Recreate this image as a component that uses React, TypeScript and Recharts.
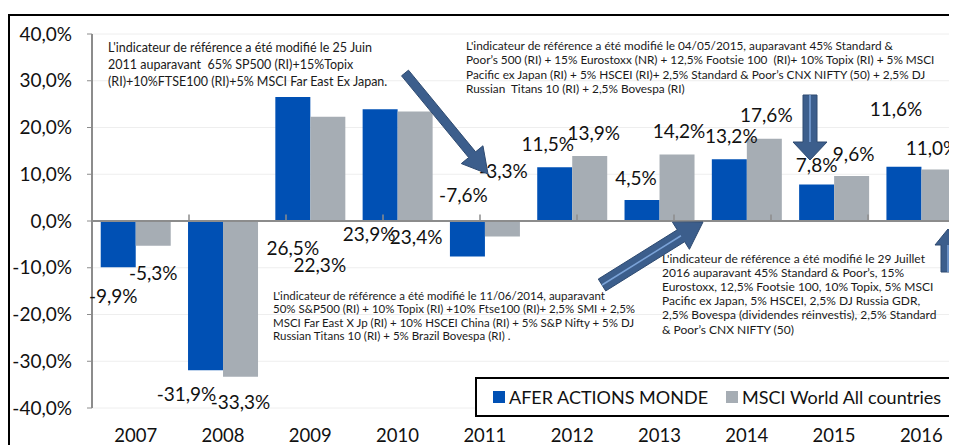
import { BarChart, Bar, XAxis, YAxis, CartesianGrid, ReferenceLine, LabelList } from "recharts";

const years = ["2007", "2008", "2009", "2010", "2011", "2012", "2013", "2014", "2015", "2016"];
const aferValues = [-9.9, -31.9, 26.5, 23.9, -7.6, 11.5, 4.5, 13.2, 7.8, 11.6];
const msciValues = [-5.3, -33.3, 22.3, 23.4, -3.3, 13.9, 14.2, 17.6, 9.6, 11.0];
const yTicks = [-40, -30, -20, -10, 0, 10, 20, 30, 40];
const seriesNames = ["AFER ACTIONS MONDE", "MSCI World All countries"];
const boundaries = [1, 2, 3, 4, 5, 6, 7, 8, 9];

const noteTopLeft = [
  "L'indicateur de référence a été modifié le 25 Juin",
  "2011 auparavant  65% SP500 (RI)+15%Topix",
  "(RI)+10%FTSE100 (RI)+5% MSCI Far East Ex Japan.",
];
const noteTopRight = [
  "L'indicateur de référence a été modifié le 04/05/2015, auparavant 45% Standard &",
  "Poor’s 500 (RI) + 15% Eurostoxx (NR) + 12,5% Footsie 100  (RI)+ 10% Topix (RI) + 5% MSCI",
  "Pacific ex Japan (RI) + 5% HSCEI (RI)+ 2,5% Standard & Poor’s CNX NIFTY (50) + 2,5% DJ",
  "Russian  Titans 10 (RI) + 2,5% Bovespa (RI)",
];
const noteMiddle = [
  "L'indicateur de référence a été modifié le 11/06/2014, auparavant",
  "50% S&P500 (RI) + 10% Topix (RI) +10% Ftse100 (RI)+ 2,5% SMI + 2,5%",
  "MSCI Far East X Jp (RI) + 10% HSCEI China (RI) + 5% S&P Nifty + 5% DJ",
  "Russian Titans 10 (RI) + 5% Brazil Bovespa (RI) .",
];
const noteBottomRight = [
  "L'indicateur de référence a été modifié le 29 Juillet",
  "2016 auparavant 45% Standard & Poor’s, 15%",
  "Eurostoxx, 12,5% Footsie 100, 10% Topix, 5% MSCI",
  "Pacific ex Japan, 5% HSCEI, 2,5% DJ Russia GDR,",
  "2,5% Bovespa (dividendes réinvestis), 2,5% Standard",
  "& Poor’s CNX NIFTY (50)",
];

const data = years.map((year, i) => ({ year, afer: aferValues[i], msci: msciValues[i] }));

const FONT = "Lato, 'Open Sans', sans-serif";
const BLUE = "#0050B4";
const GRAY = "#A6ADB4";
const AXIS = "#8C8C8C";
const ARROW = "#3C5E8C";

// label nudges (dx, dy) from bar centre / bar end, as placed in the original
const aferNudge = [[-5, 28], [-19, 23], [0, 150], [-11, 124], [-4, -62], [-7, -24], [-6, -22], [2, -24], [0, -20], [-8, -58]];
const msciNudge = [[0, 27], [0, 25], [-8, 148], [1, 125], [1, -66], [4, -24], [2, -24], [2, -24], [2, -23], [-7, -22]];

const fmt = (v: number) => `${Number(v).toFixed(1).replace(".", ",")}%`;

function makeLabel(nudges: number[][], values: number[]) {
  return (props: any) => {
    const vb = props.viewBox && props.viewBox.width !== undefined ? props.viewBox : props;
    const { x, y, width, height } = vb;
    const value = Number(props.value);
    const idx = props.index ?? values.indexOf(value);
    const [dx, dy] = nudges[idx] ?? [0, 0];
    const yEnd = value >= 0 ? Math.min(y, y + height) : Math.max(y, y + height);
    return (
      <text
        x={x + width / 2 + dx}
        y={yEnd + dy}
        textAnchor="middle"
        dominantBaseline="central"
        fontSize={19}
        fontFamily={FONT}
        fill="#111"
      >
        {fmt(value)}
      </text>
    );
  };
}

function arrowPoints(x1: number, y1: number, x2: number, y2: number, shaft: number, head: number, headLen: number) {
  const len = Math.hypot(x2 - x1, y2 - y1);
  const ux = (x2 - x1) / len;
  const uy = (y2 - y1) / len;
  const px = -uy;
  const py = ux;
  const bx = x2 - ux * headLen;
  const by = y2 - uy * headLen;
  const pts = [
    [x1 + (px * shaft) / 2, y1 + (py * shaft) / 2],
    [bx + (px * shaft) / 2, by + (py * shaft) / 2],
    [bx + (px * head) / 2, by + (py * head) / 2],
    [x2, y2],
    [bx - (px * head) / 2, by - (py * head) / 2],
    [bx - (px * shaft) / 2, by - (py * shaft) / 2],
    [x1 - (px * shaft) / 2, y1 - (py * shaft) / 2],
  ];
  return { pts: pts.map((p) => p.join(",")).join(" "), bx, by };
}

const arrows = [
  { x1: 405, y1: 73, x2: 488, y2: 174, shaft: 9, head: 28, headLen: 25, glow: false },
  { x1: 602, y1: 285, x2: 703, y2: 222, shaft: 14, head: 32, headLen: 26, glow: true },
  { x1: 810, y1: 95, x2: 810, y2: 160, shaft: 14, head: 34, headLen: 18, glow: true },
  { x1: 948, y1: 272, x2: 948, y2: 229, shaft: 14, head: 26, headLen: 16, glow: true },
];

function Note({ lines, x, y, lh, size }: { lines: string[]; x: number; y: number; lh: number; size: number }) {
  return (
    <text fontFamily={FONT} fontSize={size} fill="#1a1a1a">
      {lines.map((l, i) => (
        <tspan key={i} x={x} y={y + i * lh} dominantBaseline="central" style={{ whiteSpace: "pre" }}>
          {l}
        </tspan>
      ))}
    </text>
  );
}

export default function App() {
  return (
    <div style={{ position: "relative", width: 949, height: 437, overflow: "hidden", background: "#fff", fontFamily: FONT }}>
      <div
        style={{ position: "absolute", left: 0, top: 6, width: 1010, height: 470, border: "2px solid #000", boxSizing: "border-box" }}
      />
      <div style={{ position: "absolute", left: 0, top: 0 }}>
        <BarChart
          width={957}
          height={437}
          data={data}
          margin={{ top: 26, right: 0, bottom: 0, left: 0 }}
          barCategoryGap="10%"
          barGap={0}
        >
          <CartesianGrid vertical={false} stroke="#EEEEEE" />
          <XAxis
            dataKey="year"
            axisLine={false}
            tickLine={false}
            tickSize={6}
            tickMargin={15}
            height={37}
            tick={{ fontSize: 18.5, fill: "#111", fontFamily: FONT }}
          />
          <XAxis xAxisId="b" type="number" domain={[0, 10]} hide />
          <YAxis
            domain={[-40, 40]}
            ticks={yTicks}
            tickFormatter={fmt}
            width={84}
            tickSize={5}
            tickMargin={15}
            axisLine={{ stroke: AXIS, strokeWidth: 2 }}
            tickLine={{ stroke: AXIS }}
            tick={{ fontSize: 19, fill: "#111", fontFamily: FONT }}
          />
          <Bar dataKey="afer" name={seriesNames[0]} fill={BLUE} isAnimationActive={false}>
            <LabelList dataKey="afer" content={makeLabel(aferNudge, aferValues)} />
          </Bar>
          <Bar dataKey="msci" name={seriesNames[1]} fill={GRAY} isAnimationActive={false}>
            <LabelList dataKey="msci" content={makeLabel(msciNudge, msciValues)} />
          </Bar>
          <ReferenceLine y={0} stroke={AXIS} strokeWidth={2} />
          {boundaries.map((b) => (
            <ReferenceLine
              key={b}
              xAxisId="b"
              segment={[{ x: b, y: 0 }, { x: b, y: 1.4 }]}
              stroke={AXIS}
              strokeWidth={1.5}
            />
          ))}
        </BarChart>
      </div>
      <svg width={949} height={437} style={{ position: "absolute", left: 0, top: 0, pointerEvents: "none" }}>
        <g transform="translate(-8,-8)">
          <Note lines={noteTopLeft} x={108} y={47} lh={17} size={12.5} />
          <Note lines={noteTopRight} x={466} y={45} lh={14.5} size={11.8} />
          <Note lines={noteMiddle} x={273} y={295} lh={13.5} size={11.5} />
          <Note lines={noteBottomRight} x={662} y={258} lh={14.2} size={12} />
          {arrows.map((a, i) => {
            const { pts, bx, by } = arrowPoints(a.x1, a.y1, a.x2, a.y2, a.shaft, a.head, a.headLen);
            return (
              <g key={i}>
                <polygon points={pts} fill={ARROW} stroke="#2E4A70" strokeWidth={1} />
                {a.glow && <line x1={a.x1} y1={a.y1} x2={bx} y2={by} stroke="#7BA3D8" strokeWidth={1.5} />}
              </g>
            );
          })}
        </g>
      </svg>
      <div
        style={{
          position: "absolute",
          left: 467,
          top: 369,
          width: 600,
          height: 40,
          border: "2px solid #000",
          boxSizing: "border-box",
          background: "#fff",
          display: "flex",
          alignItems: "center",
          fontSize: 18,
          color: "#111",
          whiteSpace: "nowrap",
        }}
      >
        {seriesNames.map((n, i) => (
          <span key={n} style={{ display: "flex", alignItems: "center", marginLeft: i === 0 ? 16 : 18 }}>
            <span style={{ width: 12, height: 12, background: i === 0 ? BLUE : GRAY, marginRight: 4, display: "inline-block" }} />
            {n}
          </span>
        ))}
      </div>
    </div>
  );
}
